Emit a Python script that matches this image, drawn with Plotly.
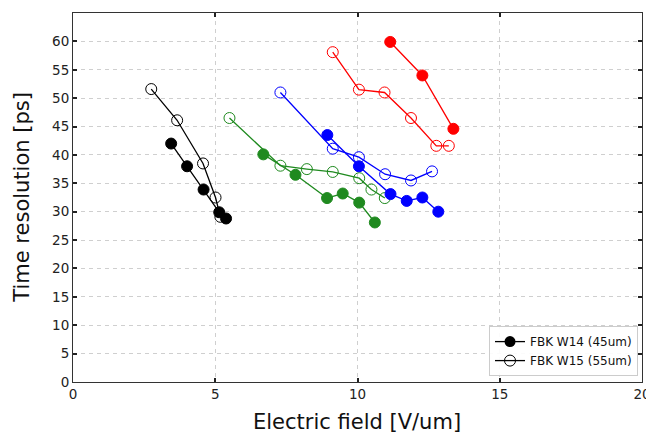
import plotly.graph_objects as go

# FBK W14 (45um) - filled markers
w14_black_x = [3.45, 4.01, 4.59, 5.14, 5.38]
w14_black_y = [42.0, 38.0, 33.9, 29.9, 28.8]
w14_green_x = [6.69, 7.82, 8.93, 9.48, 10.06, 10.61]
w14_green_y = [40.1, 36.5, 32.4, 33.2, 31.6, 28.1]
w14_blue_x = [8.94, 10.05, 11.16, 11.73, 12.28, 12.84]
w14_blue_y = [43.5, 38.0, 33.1, 31.9, 32.5, 30.0]
w14_red_x = [11.15, 12.28, 13.37]
w14_red_y = [59.9, 54.0, 44.6]

# FBK W15 (55um) - open markers
w15_black_x = [2.75, 3.66, 4.57, 5.01, 5.18]
w15_black_y = [51.6, 46.1, 38.5, 32.5, 29.1]
w15_green_x = [5.50, 7.29, 8.22, 9.13, 10.06, 10.49, 10.96]
w15_green_y = [46.5, 38.1, 37.5, 37.0, 35.9, 33.9, 32.4]
w15_blue_x = [7.29, 9.13, 10.05, 10.97, 11.88, 12.62]
w15_blue_y = [51.0, 41.1, 39.6, 36.6, 35.5, 37.1]
w15_red_x = [9.13, 10.05, 10.95, 11.88, 12.77, 13.21]
w15_red_y = [58.1, 51.5, 51.0, 46.5, 41.6, 41.6]

x_ticks = [0, 5, 10, 15, 20]
y_ticks = [0, 5, 10, 15, 20, 25, 30, 35, 40, 45, 50, 55, 60]
legend_labels = ["FBK W14 (45um)", "FBK W15 (55um)"]
x_title = "Electric field [V/um]"
y_title = "Time resolution [ps]"

BLACK = "#000000"
GREEN = "#1f8a1f"
BLUE = "#0000ff"
RED = "#ff0000"

fig = go.Figure()

def add_series(x, y, color, filled):
    fig.add_trace(go.Scatter(
        x=x, y=y, mode="lines+markers", showlegend=False,
        line=dict(color=color, width=1.3),
        marker=dict(
            symbol="circle" if filled else "circle-open",
            size=11,
            color=color,
            line=dict(color=color, width=1),
        ),
        hoverinfo="x+y",
    ))

for x, y, c in [(w15_black_x, w15_black_y, BLACK), (w15_green_x, w15_green_y, GREEN),
                (w15_blue_x, w15_blue_y, BLUE), (w15_red_x, w15_red_y, RED)]:
    add_series(x, y, c, False)
for x, y, c in [(w14_black_x, w14_black_y, BLACK), (w14_green_x, w14_green_y, GREEN),
                (w14_blue_x, w14_blue_y, BLUE), (w14_red_x, w14_red_y, RED)]:
    add_series(x, y, c, True)

# legend entries
fig.add_trace(go.Scatter(x=[None], y=[None], mode="lines+markers", name=legend_labels[0],
                         line=dict(color=BLACK, width=1.3),
                         marker=dict(symbol="circle", size=11, color=BLACK)))
fig.add_trace(go.Scatter(x=[None], y=[None], mode="lines+markers", name=legend_labels[1],
                         line=dict(color=BLACK, width=1.3),
                         marker=dict(symbol="circle-open", size=11, color=BLACK,
                                     line=dict(color=BLACK, width=1))))

axis_common = dict(
    showline=True, linecolor="#333333", linewidth=1, mirror="ticks",
    ticks="inside", ticklen=4, tickwidth=1.5, tickcolor="#222222",
    showgrid=True, gridcolor="#cfcfcf", griddash="4px,4px", gridwidth=1,
    zeroline=False, automargin=False,
    tickfont=dict(family="DejaVu Sans", size=13.5, color="#222222"),
)

fig.update_xaxes(range=[0, 20], tickvals=x_ticks, ticktext=[str(v) for v in x_ticks],
                 **axis_common)
fig.update_yaxes(range=[0, 65], tickvals=y_ticks, ticktext=[str(v) for v in y_ticks],
                 **axis_common)

fig.add_annotation(text=x_title, xref="paper", yref="paper", x=0.499, y=-0.147,
                   xanchor="center", yanchor="bottom", showarrow=False,
                   font=dict(family="DejaVu Sans", size=21, color="#111111"))
fig.add_annotation(text=y_title, xref="paper", yref="paper", x=-0.091, y=0.500,
                   xanchor="center", yanchor="middle", showarrow=False, textangle=-90,
                   font=dict(family="DejaVu Sans", size=21, color="#111111"))

# The page body has an 8px default margin; size the figure so the plot lands
# where the reference has it within the 654x437 window.
fig.update_layout(
    width=646, height=429,
    margin=dict(l=65, r=12, t=5, b=55),
    paper_bgcolor="white", plot_bgcolor="white",
    font=dict(family="DejaVu Sans"),
    legend=dict(
        x=0.993, y=0.016, xanchor="right", yanchor="bottom",
        bgcolor="rgba(255,255,255,0.9)", bordercolor="#cccccc", borderwidth=1,
        font=dict(family="DejaVu Sans", size=12, color="#111111"),
        tracegroupgap=0, itemwidth=30,
    ),
)

fig.write_html("out.html")
